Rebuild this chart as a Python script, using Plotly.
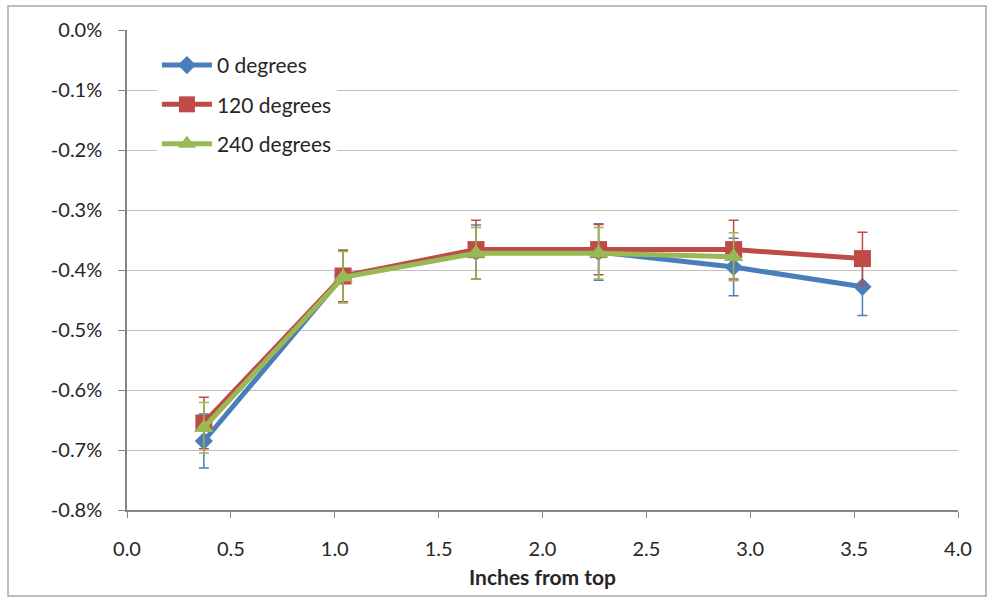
import plotly.graph_objects as go

# Measurement positions (inches from top) and mean strain (%) per orientation
x_pos = [0.37, 1.04, 1.68, 2.27, 2.92, 3.54]

deg0 = [-0.685, -0.410, -0.370, -0.370, -0.395, -0.428]
deg0_err = [0.045, 0.043, 0.045, 0.047, 0.048, 0.048]

deg120 = [-0.655, -0.410, -0.366, -0.366, -0.366, -0.381]
deg120_err = [0.043, 0.043, 0.049, 0.042, 0.049, 0.044]

deg240 = [-0.663, -0.412, -0.372, -0.372, -0.378]
deg240_err = [0.042, 0.043, 0.043, 0.043, 0.040]

# Axis ticks
y_ticks = [0.0, -0.1, -0.2, -0.3, -0.4, -0.5, -0.6, -0.7, -0.8]
y_tick_labels = ["0.0%", "-0.1%", "-0.2%", "-0.3%", "-0.4%", "-0.5%", "-0.6%", "-0.7%", "-0.8%"]
x_ticks = [0.0, 0.5, 1.0, 1.5, 2.0, 2.5, 3.0, 3.5, 4.0]
x_tick_labels = ["0.0", "0.5", "1.0", "1.5", "2.0", "2.5", "3.0", "3.5", "4.0"]

series = [
    ("0 degrees", x_pos, deg0, deg0_err, "#4A7EBB", "diamond", 14),
    ("120 degrees", x_pos, deg120, deg120_err, "#BE4B48", "square", 17),
    ("240 degrees", x_pos[:len(deg240)], deg240, deg240_err, "#98B954", "triangle-up", 17),
]

FONT = "Lato, Carlito, Calibri, sans-serif"

fig = go.Figure()
for i, (name, xs, ys, es, color, sym, size) in enumerate(series):
    fig.add_trace(go.Scatter(
        x=xs, y=ys, name=name, mode="lines+markers",
        legendgroup=f"g{i}",
        line=dict(color=color, width=5),
        marker=dict(symbol=sym, size=size, color=color),
        error_y=dict(type="data", array=es, visible=True,
                     color=color, thickness=1.5, width=5),
    ))

fig.update_layout(
    width=989, height=598,
    margin=dict(l=127, r=31, t=30, b=88),
    paper_bgcolor="white", plot_bgcolor="white",
    font=dict(family=FONT, size=20, color="#262626"),
    showlegend=True,
    legend=dict(x=0.036, y=0.969, xanchor="left", yanchor="top",
                bgcolor="white", font=dict(size=21, color="#262626"),
                itemwidth=50,
                traceorder="grouped", tracegroupgap=9),
    xaxis=dict(range=[0, 4], tickvals=x_ticks, ticktext=x_tick_labels,
               showgrid=False, zeroline=False,
               showline=True, linecolor="#868686", linewidth=1.5,
               ticks="outside", ticklen=6, tickcolor="#868686",
               ticklabelstandoff=14,
               title=dict(text="<b>Inches from top</b>", font=dict(size=21), standoff=12)),
    yaxis=dict(range=[-0.8, 0.0], tickvals=y_ticks, ticktext=y_tick_labels,
               showgrid=True, gridcolor="#C0C0C0", gridwidth=1, zeroline=False,
               showline=True, linecolor="#868686", linewidth=1.5,
               ticks="outside", ticklen=7, tickcolor="#868686",
               ticklabelstandoff=12),
    shapes=[dict(type="rect", xref="paper", yref="paper",
                 x0=-0.1432, x1=1.0337, y0=-0.179, y1=1.05,
                 line=dict(color="#A6A6A6", width=1.5), layer="below")],
)

fig.write_html("out.html")
